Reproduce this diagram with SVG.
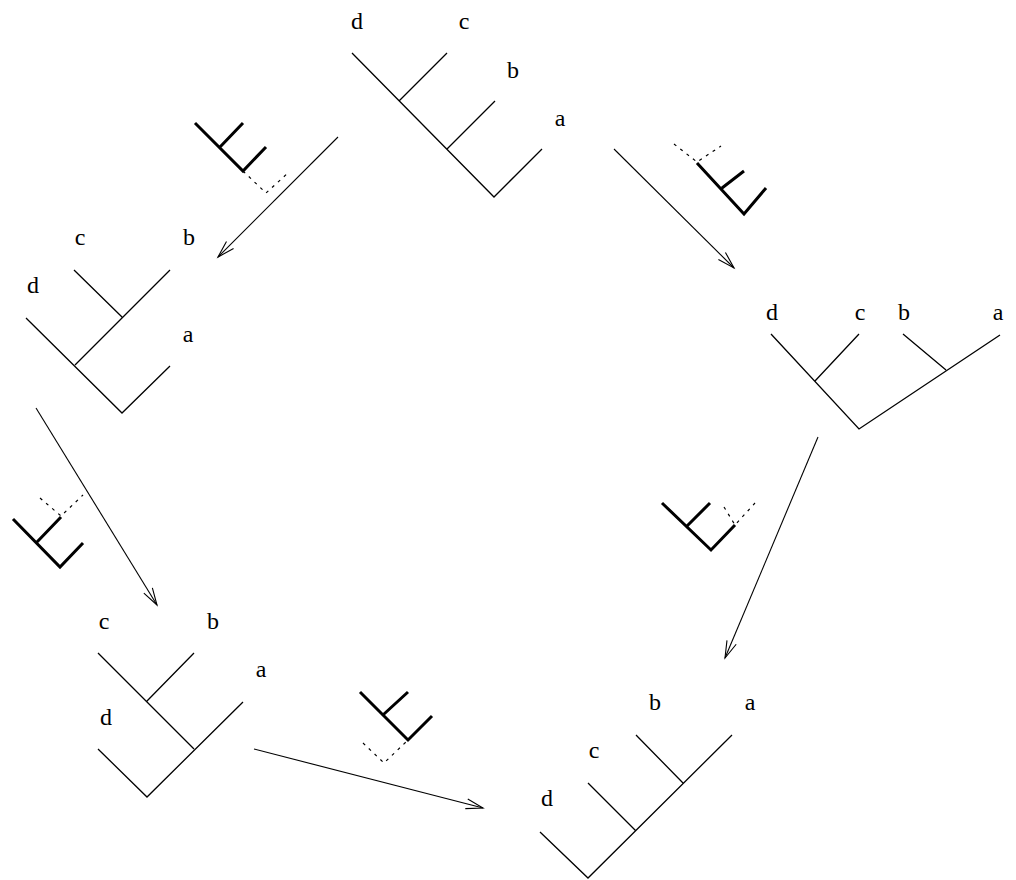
<svg xmlns="http://www.w3.org/2000/svg" width="1016" height="880" viewBox="0 0 1016 880">
<style>
.t{fill:none;stroke:#000;stroke-width:1.3;stroke-linecap:butt}
.a{fill:none;stroke:#000;stroke-width:1.1}
.k{fill:none;stroke:#000;stroke-width:3;stroke-linecap:butt;stroke-linejoin:miter}
.ds{fill:none;stroke:#000;stroke-width:1.2;stroke-dasharray:3 5}
</style>
<defs>
<marker id="ah" markerUnits="userSpaceOnUse" markerWidth="24" markerHeight="16" viewBox="-20 -8 24 16" refX="0" refY="0" orient="auto">
<path d="M-17,-5 L0,0 L-17,5" fill="none" stroke="#000" stroke-width="1.1"/>
</marker>
</defs>
<rect width="1016" height="880" fill="#fff"/>
<g id="tree-top">
<path class="t" d="M352,53 L494,197 L542,149 M399,101 L447,53 M447,149 L495,101"/>
<g font-family="Liberation Serif, Times New Roman, serif" font-size="24" text-anchor="middle" fill="#000">
<text x="357" y="29">d</text><text x="464" y="29">c</text><text x="513" y="78">b</text><text x="560" y="126">a</text>
</g>
</g>
<g id="tree-left">
<path class="t" d="M26,318 L122,413 L170,366 M75,365 L170,270 M74,270 L122,317"/>
<g font-family="Liberation Serif, Times New Roman, serif" font-size="24" text-anchor="middle" fill="#000">
<text x="80" y="245">c</text><text x="189" y="245">b</text><text x="33" y="293">d</text><text x="188" y="342">a</text>
</g>
</g>
<g id="tree-right">
<path class="t" d="M771,334 L859,429 L1000,335 M815,381 L859,334 M903,334 L946,370"/>
<g font-family="Liberation Serif, Times New Roman, serif" font-size="24" text-anchor="middle" fill="#000">
<text x="772" y="320">d</text><text x="860" y="320">c</text><text x="904" y="320">b</text><text x="998" y="320">a</text>
</g>
</g>
<g id="tree-bottom-left">
<path class="t" d="M98,653 L194,749 M147,701 L194,653 M98,749 L147,797 L243,702"/>
<g font-family="Liberation Serif, Times New Roman, serif" font-size="24" text-anchor="middle" fill="#000">
<text x="104" y="629">c</text><text x="213" y="629">b</text><text x="261" y="677">a</text><text x="106" y="725">d</text>
</g>
</g>
<g id="tree-bottom-right">
<path class="t" d="M540,832 L588,878 L732,735 M588,783 L636,831 M636,735 L683,783"/>
<g font-family="Liberation Serif, Times New Roman, serif" font-size="24" text-anchor="middle" fill="#000">
<text x="655" y="710">b</text><text x="750" y="710">a</text><text x="594" y="758">c</text><text x="547" y="806">d</text>
</g>
</g>
<g id="connectors">
<line class="a" x1="338" y1="137" x2="218" y2="257" marker-end="url(#ah)"/>
<line class="a" x1="614" y1="149" x2="734" y2="268" marker-end="url(#ah)"/>
<line class="a" x1="36" y1="408" x2="157" y2="605" marker-end="url(#ah)"/>
<line class="a" x1="818" y1="437" x2="725" y2="658" marker-end="url(#ah)"/>
<line class="a" x1="254" y1="749" x2="483" y2="808" marker-end="url(#ah)"/>
</g>
<g id="glyph-1">
<path class="k" d="M195,123 L243,171 L266,147 M220,147 L243,123"/>
<path class="ds" d="M243,171 L266,193 L289,172"/>
</g>
<g id="glyph-2">
<path class="ds" d="M674,144 L697,162 L721,146"/>
<path class="k" d="M697,163 L744,214 L766,188 M722,188 L744,171"/>
</g>
<g id="glyph-3">
<path class="ds" d="M40,498 L61,516 L83,495"/>
<path class="k" d="M61,517 L37,542 M13,519 L60,567 L83,543"/>
</g>
<g id="glyph-4">
<path class="k" d="M662,503 L711,550 L735,525 M687,526 L710,503"/>
<path class="ds" d="M724,507 L735,525 L755,503"/>
</g>
<g id="glyph-5">
<path class="k" d="M360,692 L408,740 L432,716 M384,714 L408,692"/>
<path class="ds" d="M363,743 L384,763 L408,740"/>
</g>
</svg>
